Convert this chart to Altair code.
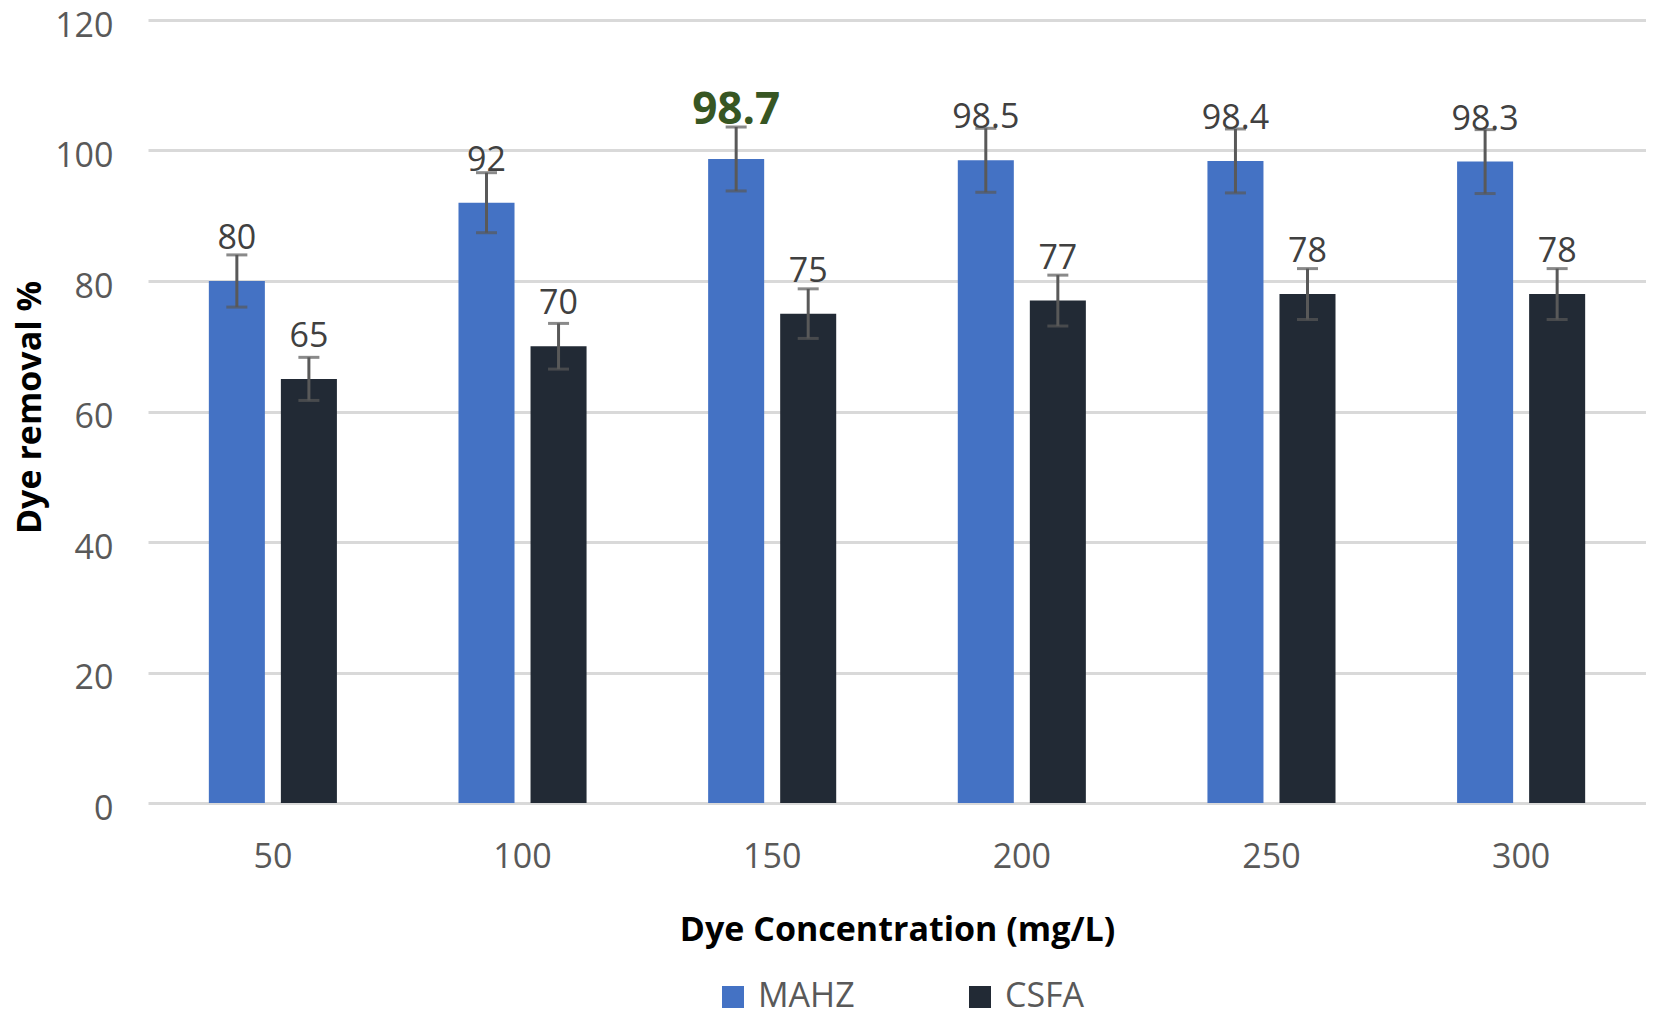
import altair as alt
import pandas as pd

categories = ["50", "100", "150", "200", "250", "300"]
series = ["MAHZ", "CSFA"]
mahz = [80, 92, 98.7, 98.5, 98.4, 98.3]
csfa = [65, 70, 75, 77, 78, 78]
mahz_err = [4.0, 4.6, 4.9, 4.9, 4.9, 4.9]
csfa_err = [3.3, 3.5, 3.8, 3.9, 3.9, 3.9]
colors = ["#4472C4", "#222A35"]
highlight = ("150", "MAHZ")

rows = []
for s, vals, errs in [("MAHZ", mahz, mahz_err), ("CSFA", csfa, csfa_err)]:
    for c, v, e in zip(categories, vals, errs):
        rows.append({
            "conc": c, "series": s, "value": v,
            "lo": v - e, "hi": v + e,
            "label": f"{v:g}",
            "hl": (c, s) == highlight,
        })
df = pd.DataFrame(rows)

FONT = "Open Sans"
H = 783

x = alt.X("conc:N", sort=categories,
          scale=alt.Scale(paddingInner=0.487, paddingOuter=0.2437),
          axis=alt.Axis(title="Dye Concentration (mg/L)", labelAngle=0,
                        labelFontSize=34, labelColor="#595959", labelFont=FONT,
                        labelPadding=54, labelBaseline="middle",
                        ticks=False, tickSize=0, domain=False, grid=False,
                        titleFontSize=34, titleFont=FONT, titleFontWeight="bold",
                        titleColor="#000000", titleY=127, titleBaseline="middle"))
xo = alt.XOffset("series:N", sort=series,
                 scale=alt.Scale(paddingInner=0.2222, paddingOuter=0))

yscale = alt.Scale(domain=[0, 120], nice=False)
yaxis = alt.Axis(title="Dye removal %", values=[0, 20, 40, 60, 80, 100, 120],
                 labelFontSize=34, labelColor="#595959", labelFont=FONT,
                 labelPadding=35, labelOffset=6, labelBaseline="middle",
                 ticks=False, tickSize=0, domain=False,
                 grid=True, gridColor="#D9D9D9", gridWidth=3,
                 titleFontSize=34, titleFont=FONT, titleFontWeight="bold",
                 titleColor="#000000", titleAngle=-90, titleX=-118,
                 titleY=387, titleBaseline="middle", titleAlign="center")


def Y(field):
    return alt.Y(field, scale=yscale, axis=yaxis, title="Dye removal %")


base = alt.Chart(df)

bars = base.mark_bar().encode(
    x=x, xOffset=xo,
    y=Y("value:Q"),
    color=alt.Color("series:N", sort=series,
                    scale=alt.Scale(domain=series, range=colors),
                    legend=alt.Legend(title=None, orient="none", legendX=568, legendY=960,
                                      direction="horizontal", symbolType="square",
                                      symbolSize=484, symbolStrokeWidth=0,
                                      labelFontSize=34, labelColor="#595959",
                                      labelFont=FONT, labelOffset=8, columnPadding=108)),
)

err = base.mark_rule(color="#595959", strokeWidth=3).encode(
    x=x, xOffset=xo, y=Y("lo:Q"), y2="hi:Q",
)
cap_lo = base.mark_tick(color="#595959", thickness=3, size=21, orient="horizontal").encode(
    x=x, xOffset=xo, y=Y("lo:Q"))
cap_hi = base.mark_tick(color="#595959", thickness=3, size=21, orient="horizontal").encode(
    x=x, xOffset=xo, y=Y("hi:Q"))

labels = base.transform_filter("!datum.hl").mark_text(
    fontSize=34, font=FONT, color="#404040", dy=-32, baseline="alphabetic", align="center"
).encode(x=x, xOffset=xo, y=Y("value:Q"), text="label:N")

hl_label = base.transform_filter("datum.hl").mark_text(
    fontSize=44, font=FONT, fontWeight="bold", color="#375623", dy=-35,
    baseline="alphabetic", align="center"
).encode(x=x, xOffset=xo, y=Y("value:Q"), text="label:N")

chart = alt.layer(bars, err, cap_lo, cap_hi, labels, hl_label).properties(
    width=1498, height=H, autosize="none", background="white",
    padding={"left": 140, "top": 12, "right": 0, "bottom": 216},
).configure_view(stroke=None)

chart.save("out.html", embed_options={"renderer": "svg", "actions": False})
